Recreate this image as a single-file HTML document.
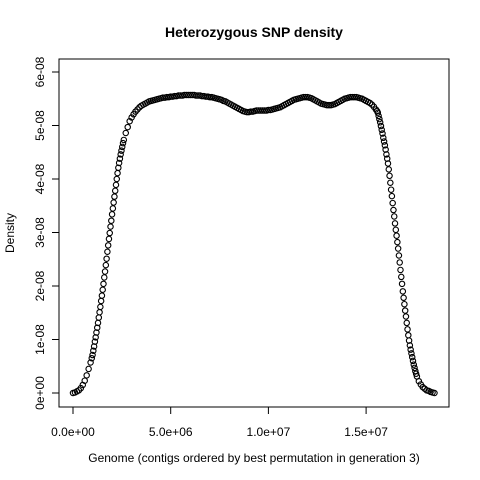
<!DOCTYPE html>
<html><head><meta charset="utf-8"><style>
html,body{margin:0;padding:0;background:#fff;}
svg{display:block;font-family:"Liberation Sans",Arial,sans-serif;}
</style></head><body>
<svg id="chart" width="480" height="480" viewBox="0 0 480 480" xmlns="http://www.w3.org/2000/svg">
<rect x="0" y="0" width="480" height="480" fill="#fff"/>
<text x="254" y="37" text-anchor="middle" font-size="14" font-weight="bold">Heterozygous SNP density</text>
<rect x="59" y="59" width="390" height="348" fill="none" stroke="#000" stroke-width="1"/>
<g id="xaxis"></g>
<g id="yaxis"></g>
<g id="points"></g>
<text x="254" y="462" text-anchor="middle" font-size="12">Genome (contigs ordered by best permutation in generation 3)</text>
<text transform="translate(14,233) rotate(-90)" text-anchor="middle" font-size="12">Density</text>
</svg>
<script>
// genome position in units of 1e6
const positions = [0,0.1,0.2,0.3,0.4,0.5,0.6,0.7,0.8,0.9,0.96,
1.00,1.04,1.08,1.12,1.16,1.20,1.24,1.28,1.32,1.36,1.40,1.44,1.48,1.52,1.56,1.60,1.64,1.68,1.72,1.76,1.80,1.84,1.88,1.92,1.96,2.00,2.04,2.08,2.12,2.16,2.20,2.24,2.28,2.32,2.36,2.40,2.44,2.48,2.52,2.56,2.60,
2.7,2.8,2.9,3.0,3.1,3.2,3.3,3.4,3.5,3.6,3.7,3.8,3.9,4.0,4.1,4.2,4.3,4.4,4.5,4.6,4.7,4.8,4.9,5.0,5.1,5.2,5.3,5.4,5.5,5.6,5.7,5.8,5.9,6.0,6.1,6.2,6.3,6.4,6.5,6.6,6.7,6.8,6.9,7.0,7.1,7.2,7.3,7.4,7.5,7.6,7.7,7.8,7.9,8.0,8.1,8.2,8.3,8.4,8.5,8.6,8.7,8.8,8.9,9.0,9.1,9.2,9.3,9.4,9.5,9.6,9.7,9.8,9.9,10.0,10.1,10.2,10.3,10.4,10.5,10.6,10.7,10.8,10.9,11.0,11.1,11.2,11.3,11.4,11.5,11.6,11.7,11.8,11.9,12.0,12.1,12.2,12.3,12.4,12.5,12.6,12.7,12.8,12.9,13.0,13.1,13.2,13.3,13.4,13.5,13.6,13.7,13.8,13.9,14.0,14.1,14.2,14.3,14.4,14.5,14.6,14.7,14.8,14.9,15.0,15.1,15.2,15.3,15.4,15.5,
15.56,15.60,15.64,15.68,15.72,15.76,15.80,15.84,15.88,15.92,15.96,16.00,16.04,16.08,16.12,16.16,16.20,16.24,16.28,16.32,16.36,16.40,16.44,16.48,16.52,16.56,16.60,16.64,16.68,16.72,16.76,16.80,16.84,16.88,16.92,16.96,17.00,17.04,17.08,17.12,17.16,17.20,17.24,17.28,17.32,17.36,17.40,17.44,17.48,17.52,17.56,17.60,
17.7,17.8,17.9,18.0,18.1,18.2,18.3,18.4,18.5];
// density in units of 1e-8
const densities = [0,0.01,0.03,0.05,0.09,0.15,0.23,0.33,0.45,0.57,0.65,
0.71,0.79,0.87,0.96,1.04,1.13,1.22,1.31,1.41,1.51,1.61,1.72,1.82,1.93,2.04,2.16,2.27,2.39,2.51,2.64,2.76,2.88,2.99,3.11,3.22,3.34,3.45,3.56,3.67,3.78,3.89,4.00,4.11,4.21,4.30,4.38,4.46,4.53,4.60,4.67,4.73,
4.86,4.97,5.08,5.15,5.21,5.26,5.30,5.34,5.37,5.39,5.41,5.43,5.45,5.46,5.47,5.48,5.49,5.50,5.51,5.52,5.52,5.53,5.53,5.54,5.54,5.55,5.55,5.56,5.56,5.56,5.57,5.57,5.57,5.57,5.57,5.57,5.56,5.56,5.56,5.55,5.55,5.54,5.54,5.53,5.53,5.52,5.51,5.50,5.49,5.48,5.46,5.45,5.43,5.41,5.39,5.37,5.35,5.33,5.31,5.29,5.27,5.26,5.25,5.25,5.26,5.26,5.27,5.28,5.28,5.28,5.28,5.28,5.28,5.29,5.29,5.30,5.31,5.32,5.33,5.34,5.36,5.38,5.40,5.42,5.44,5.46,5.48,5.49,5.50,5.51,5.52,5.53,5.53,5.53,5.52,5.51,5.49,5.47,5.45,5.43,5.41,5.40,5.39,5.38,5.38,5.38,5.39,5.40,5.42,5.44,5.46,5.48,5.50,5.51,5.52,5.53,5.53,5.53,5.53,5.52,5.51,5.50,5.48,5.46,5.44,5.42,5.39,5.35,5.30,
5.27,5.24,5.18,5.12,5.06,4.99,4.92,4.85,4.77,4.70,4.63,4.55,4.46,4.38,4.29,4.18,4.06,3.93,3.80,3.68,3.55,3.42,3.30,3.17,3.05,2.94,2.82,2.70,2.57,2.44,2.30,2.17,2.04,1.90,1.78,1.66,1.54,1.43,1.31,1.19,1.08,0.98,0.89,0.81,0.74,0.67,0.60,0.53,0.47,0.41,0.36,0.31,
0.22,0.16,0.11,0.08,0.05,0.04,0.02,0.01,0.0];
const xTicks = [0,5,10,15];
const xTickLabels = ["0.0e+00","5.0e+06","1.0e+07","1.5e+07"];
const yTicks = [0,1,2,3,4,5,6];
const yTickLabels = ["0e+00","1e-08","2e-08","3e-08","4e-08","5e-08","6e-08"];

const NS = "http://www.w3.org/2000/svg";
function xs(v){ return 73 + v * 19.54; }
function ys(d){ return 393 - d * 53.5; }
function mk(tag, attrs, parent){
  const e = document.createElementNS(NS, tag);
  for (const k in attrs) e.setAttribute(k, attrs[k]);
  parent.appendChild(e);
  return e;
}
const xa = document.getElementById('xaxis');
const ya = document.getElementById('yaxis');
const pts = document.getElementById('points');

const xl = mk('line', {x1: xs(xTicks[0]), x2: xs(xTicks[xTicks.length-1]), y1: 407, y2: 407, stroke: '#000'}, xa);


xTicks.forEach((t, i) => {
  const tk = mk('line', {x1: xs(t), x2: xs(t), y1: 407, y2: 414, stroke: '#000'}, xa);
  
  
  const lb = mk('text', {x: xs(t), y: 436, 'text-anchor': 'middle', 'font-size': '12'}, xa);
  lb.textContent = xTickLabels[i];
  
  
});
const yl = mk('line', {x1: 59, x2: 59, y1: ys(yTicks[0]), y2: ys(yTicks[yTicks.length-1]), stroke: '#000'}, ya);


yTicks.forEach((t, i) => {
  const tk = mk('line', {x1: 52, x2: 59, y1: ys(t), y2: ys(t), stroke: '#000'}, ya);
  
  
  const lb = mk('text', {transform: 'translate(44,' + ys(t) + ') rotate(-90)', 'text-anchor': 'middle', 'font-size': '12'}, ya);
  lb.textContent = yTickLabels[i];
  
  
});
positions.forEach((p, i) => {
  const c = mk('circle', {cx: xs(p), cy: ys(densities[i]), r: 2.7, fill: 'none', stroke: '#000', 'stroke-width': 1.1}, pts);
  
  
});
</script>
</body></html>
